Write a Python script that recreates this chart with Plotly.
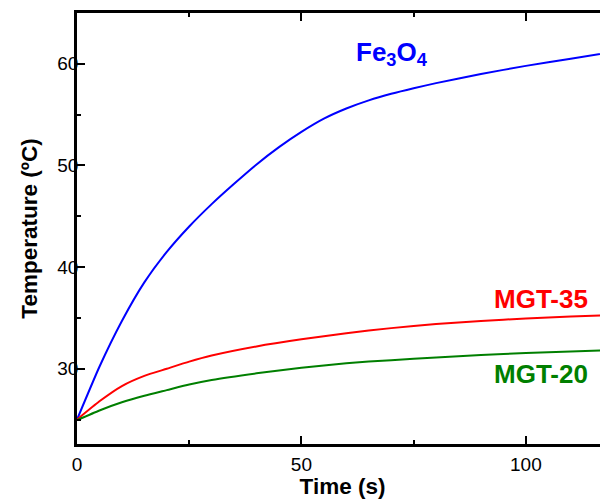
import plotly.graph_objects as go

# Time (s)
fe_time = [0, 5, 10, 15, 20, 25, 30, 35, 40, 45, 50, 55, 60, 65, 70, 75, 80, 90, 100, 110, 120]
fe_temp = [25.0, 30.2, 34.7, 38.5, 41.5, 44.0, 46.2, 48.2, 50.1, 51.8, 53.3, 54.6, 55.6, 56.4, 57.05, 57.6, 58.1, 59.0, 59.8, 60.5, 61.2]

mgt35_time = [0, 5, 10, 15, 20, 25, 30, 40, 50, 60, 70, 80, 90, 100, 110, 120]
mgt35_temp = [25.0, 26.8, 28.3, 29.3, 30.0, 30.7, 31.3, 32.2, 32.9, 33.5, 34.0, 34.4, 34.7, 34.95, 35.15, 35.3]

mgt20_time = [0, 5, 10, 15, 20, 25, 30, 40, 50, 60, 70, 80, 90, 100, 110, 120]
mgt20_temp = [24.95, 25.9, 26.7, 27.35, 27.9, 28.45, 28.9, 29.55, 30.1, 30.55, 30.85, 31.1, 31.35, 31.55, 31.7, 31.85]

x_ticks = [0, 50, 100]
y_ticks = [30, 40, 50, 60]

FONT = "Liberation Sans, Arial, sans-serif"
X_RANGE = [0, 118.3]
Y_RANGE = [22.6, 65.0]

fig = go.Figure()
fig.add_trace(go.Scatter(x=fe_time, y=fe_temp, mode="lines",
                         line=dict(color="#0000FF", width=2, shape="spline", smoothing=0.5),
                         showlegend=False))
fig.add_trace(go.Scatter(x=mgt35_time, y=mgt35_temp, mode="lines",
                         line=dict(color="#FF0000", width=2, shape="spline", smoothing=0.5),
                         showlegend=False))
fig.add_trace(go.Scatter(x=mgt20_time, y=mgt20_temp, mode="lines",
                         line=dict(color="#007F00", width=2, shape="spline", smoothing=0.5),
                         showlegend=False))

labels = [
    ("Fe<sub>3</sub>O<sub>4</sub>", 70.2, 61.0, "#0000FF"),
    ("MGT-35", 103.3, 36.9, "#FF0000"),
    ("MGT-20", 103.3, 29.45, "#007F00"),
]
for txt, ax_, ay_, col in labels:
    fig.add_annotation(x=ax_, y=ay_, xref="x", yref="y", text=txt, showarrow=False,
                       font=dict(family=FONT, size=26, color=col, weight="bold"))

fig.update_layout(
    width=600, height=491,
    margin=dict(l=69, r=0, t=5, b=55),
    paper_bgcolor="white", plot_bgcolor="white",
    font=dict(family=FONT, color="black"),
    xaxis=dict(
        range=X_RANGE, tickvals=x_ticks, ticks="inside", ticklen=8, tickwidth=2,
        tickcolor="black", showline=True, linewidth=2.5, linecolor="black",
        mirror="allticks", showgrid=False, zeroline=False,
        tickfont=dict(size=19, family=FONT), ticklabelstandoff=1,
        minor=dict(tickvals=[25, 75], ticks="inside", ticklen=4, tickwidth=2, tickcolor="black"),
        title=dict(text="Time (s)", font=dict(size=22.5, family=FONT, weight="bold"), standoff=0),
    ),
    yaxis=dict(
        range=Y_RANGE, tickvals=y_ticks, ticks="inside", ticklen=8, tickwidth=2,
        tickcolor="black", showline=True, linewidth=2.5, linecolor="black",
        mirror=False, showgrid=False, zeroline=False,
        tickfont=dict(size=19, family=FONT), ticklabelstandoff=-8,
        minor=dict(tickvals=[25, 35, 45, 55], ticks="inside", ticklen=4, tickwidth=2, tickcolor="black"),
        title=dict(text="Temperature (ºC)", font=dict(size=22.5, family=FONT, weight="bold"), standoff=14),
    ),
    yaxis2=dict(
        range=Y_RANGE, overlaying="y", side="right", tickvals=y_ticks,
        ticks="inside", ticklen=2, tickwidth=2, tickcolor="black",
        showticklabels=False, showline=False, showgrid=False, zeroline=False,
    ),
)

fig.write_html("out.html")
